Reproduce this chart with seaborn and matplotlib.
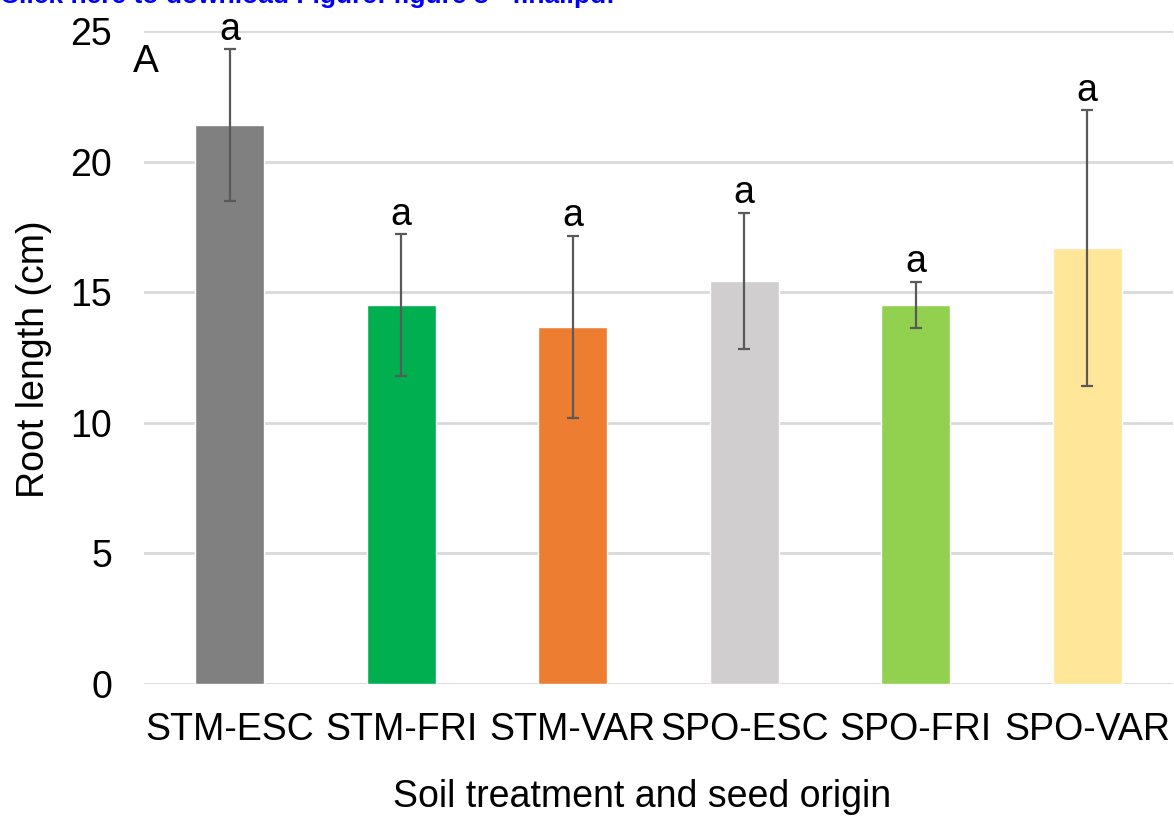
import numpy as np
import seaborn as sns
import matplotlib.pyplot as plt

# Root length per soil treatment / seed origin (mean +- sd)
categories = ["STM-ESC", "STM-FRI", "STM-VAR", "SPO-ESC", "SPO-FRI", "SPO-VAR"]
means = [21.40, 14.51, 13.67, 15.43, 14.51, 16.69]
sds = [2.9, 2.7, 3.48, 2.6, 0.88, 5.27]
letters = ["a", "a", "a", "a", "a", "a"]
colors = ["#808080", "#00B050", "#ED7D31", "#D0CECE", "#92D050", "#FFE699"]
yticks = [0, 5, 10, 15, 20, 25]

sns.set_style("white")
plt.rcParams["font.family"] = ["Liberation Sans", "DejaVu Sans"]
plt.rcParams.update({"text.color": "black", "axes.labelcolor": "black",
                     "xtick.color": "black", "ytick.color": "black"})

W, H = 1174, 822
fig = plt.figure(figsize=(W / 100, H / 100), dpi=100)
ax = fig.add_axes([144 / W, 1 - 684 / H, 1029 / W, 653 / H])

sns.barplot(x=categories, y=means, hue=categories, palette=colors, width=0.4,
            saturation=1, errorbar=None, legend=False, ax=ax, zorder=2)
ax.errorbar(np.arange(len(categories)), means, yerr=sds, fmt="none",
            ecolor="#595959", elinewidth=1.6, capsize=4.5, capthick=1.6, zorder=3)

# significance letters above the error bars
for i, (m, s, l) in enumerate(zip(means, sds, letters)):
    ax.annotate(l, (i, m + s), xytext=(0, 7), textcoords="offset points",
                ha="center", va="baseline", fontsize=27, annotation_clip=False)

ax.set_xlim(-0.5, len(categories) - 0.5)
ax.set_ylim(0, 25)
ax.set_yticks(yticks)
ax.grid(axis="y", color="#D9D9D9", lw=2, zorder=0)
ax.set_axisbelow(True)
for sp in ax.spines.values():
    sp.set_visible(False)
ax.tick_params(axis="y", length=0, pad=23, labelsize=27)
ax.tick_params(axis="x", length=0, pad=20, labelsize=27)

ax.set_xlabel("Soil treatment and seed origin", fontsize=27)
ax.xaxis.set_label_coords((642 - 144) / 1029, -(807 - 684) / 653)
ax.xaxis.label.set_va("baseline")
ax.set_ylabel("Root length (cm)", fontsize=27)
ax.yaxis.set_label_coords(-(144 - 34) / 1029, 0.497)
ax.yaxis.label.set_va("center")

fig.text(133 / W, 1 - 72 / H, "A", fontsize=28, va="baseline")
fig.text(0, 1 - 3 / H, "Click here to download Figure: figure 3 - final.pdf",
         color="#0000FF", fontsize=19, fontweight="bold", va="baseline")

fig.savefig("out.png", dpi=100)
